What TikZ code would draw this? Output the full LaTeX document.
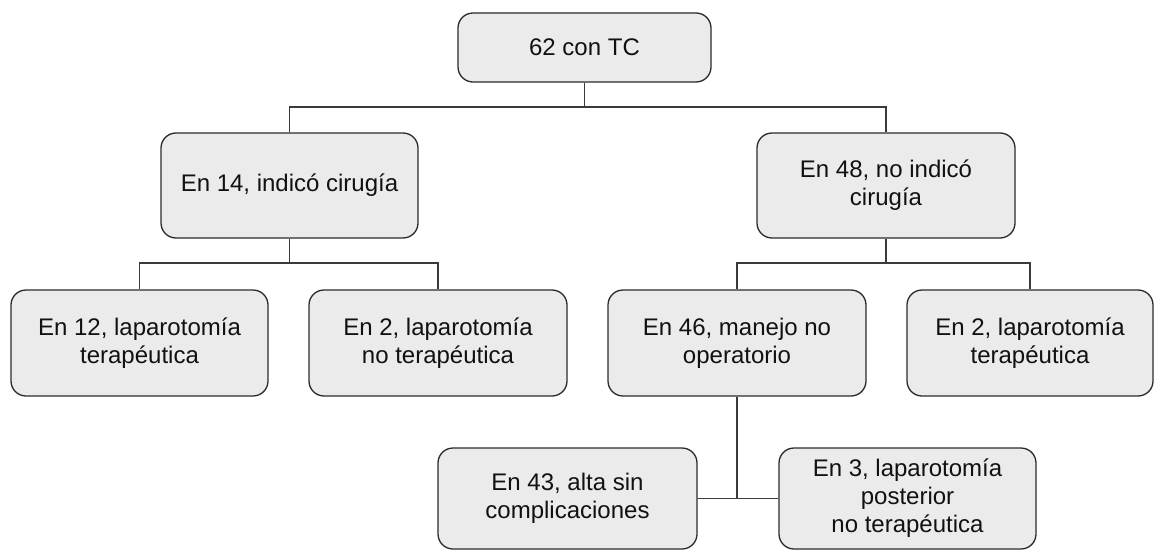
\documentclass[tikz,border=0pt]{standalone}
\usepackage{fontspec}
\setmainfont{Liberation Sans}
\definecolor{boxfill}{HTML}{EBEBEB}
\definecolor{boxline}{HTML}{2B2B2B}
\definecolor{linkline}{HTML}{3A3A3A}
\definecolor{txt}{HTML}{111111}
\begin{document}
\begin{tikzpicture}[x=1pt,y=-1pt,
  box/.style={draw=boxline, fill=boxfill, line width=1.3pt, rounded corners=15pt,
    inner sep=0pt, align=center, text=txt,
    font=\fontsize{24}{28}\selectfont},
  link/.style={draw=linkline, line width=1.3pt}]
\useasboundingbox (0,0) rectangle (1155,551);
\node[box, minimum width=253pt, minimum height=69pt] (top) at (584.5,47.5) {62 con TC};
\node[box, minimum width=257pt, minimum height=105pt] (b14) at (289.5,185.5) {En 14, indicó cirugía};
\node[box, minimum width=258pt, minimum height=105pt] (b48) at (886,185.5) {En 48, no indicó\\cirugía};
\node[box, minimum width=257pt, minimum height=106pt] (b12) at (139.5,343) {En 12, laparotomía\\terapéutica};
\node[box, minimum width=258pt, minimum height=106pt] (b2n) at (438,343) {En 2, laparotomía\\no terapéutica};
\node[box, minimum width=258pt, minimum height=106pt] (b46) at (737,343) {En 46, manejo no\\operatorio};
\node[box, minimum width=246pt, minimum height=106pt] (b2t) at (1030,343) {En 2, laparotomía\\terapéutica};
\node[box, minimum width=259pt, minimum height=101pt] (b43) at (567.5,498.5) {En 43, alta sin\\complicaciones};
\node[box, minimum width=257pt, minimum height=101pt] (b3) at (907.5,498.5) {En 3, laparotomía\\posterior\\no terapéutica};
\coordinate (j1) at (584.5,107);
\coordinate (j2) at (289.5,263);
\coordinate (j3) at (886,263);
\draw[link] (top.south) -- (j1);
\draw[link] (b14.north) |- (j1) -| (b48.north);
\draw[link] (b14.south) -- (j2);
\draw[link] (b12.north) |- (j2) -| (b2n.north);
\draw[link] (b48.south) -- (j3);
\draw[link] (b46.north) |- (j3) -| (b2t.north);
\draw[link] (b46.south) -- (b46.south |- b43.east);
\draw[link] (b43.east) -- (b3.west);
\end{tikzpicture}
\end{document}
